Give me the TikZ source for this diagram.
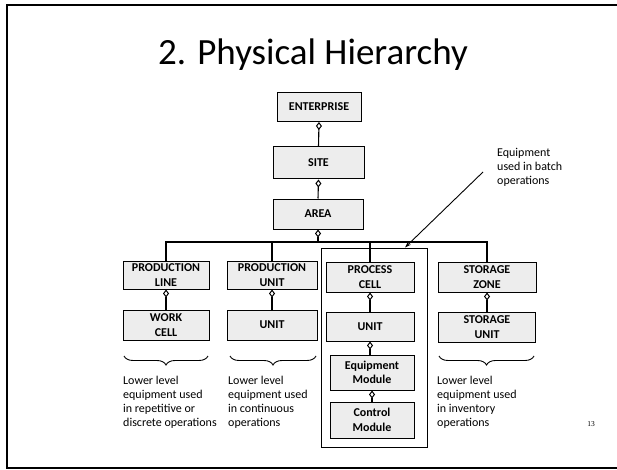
\documentclass[tikz,border=0pt]{standalone}
\usepackage{fontspec}
\setmainfont{Carlito}
\newfontfamily\pagenumfont{Liberation Serif}
\usetikzlibrary{arrows.meta,decorations.pathreplacing}

\begin{document}
\begin{tikzpicture}[x=1pt,y=-1pt,
  unitbox/.style={draw, line width=1pt, fill=gray!14, align=center,
    font=\fontsize{12}{14.5}\selectfont\bfseries, inner sep=0pt},
  link/.style={line width=1.1pt,
    {Diamond[open,length=8pt,width=6pt,line width=1pt]}-},
  wire/.style={line width=1.1pt},
  note/.style={align=left, inner sep=0pt, anchor=north west,
    font=\fontsize{12}{14}\selectfont},
  curly/.style={decorate, line width=0.9pt,
    decoration={brace, mirror, amplitude=9pt}},
]
\useasboundingbox (0,0) rectangle (617,470);

% slide frame
\draw[line width=1.6pt] (617,5) -- (7,5) -- (7,468) -- (617,468);

% title
\node (title) at (313,55) {\fontsize{37}{44}\selectfont 2. Physical Hierarchy};

% hierarchy boxes
\node[unitbox, minimum width=84pt, minimum height=29pt] (ent)  at (319,107)   {ENTERPRISE};
\node[unitbox, minimum width=91pt, minimum height=32pt] (site) at (318.5,163) {SITE};
\node[unitbox, minimum width=90pt, minimum height=30pt] (area) at (318,214)   {AREA};

\node[unitbox, minimum width=86pt, minimum height=28pt] (pl) at (166,275) {PRODUCTION\\LINE};
\node[unitbox, minimum width=90pt, minimum height=28pt] (pu) at (272,275) {PRODUCTION\\UNIT};
\node[unitbox, minimum width=88pt, minimum height=30pt] (pc) at (370,277) {PROCESS\\CELL};
\node[unitbox, minimum width=98pt, minimum height=30pt] (sz) at (487,277) {STORAGE\\ZONE};

\node[unitbox, minimum width=86pt, minimum height=30pt] (wc) at (166,325)   {WORK\\CELL};
\node[unitbox, minimum width=90pt, minimum height=30pt] (u1) at (272,325)   {UNIT};
\node[unitbox, minimum width=88pt, minimum height=29pt] (u2) at (370,326.5) {UNIT};
\node[unitbox, minimum width=97pt, minimum height=30pt] (su) at (487,327)   {STORAGE\\UNIT};

\node[unitbox, minimum width=84pt, minimum height=35pt] (em) at (372,372.5) {Equipment\\Module};
\node[unitbox, minimum width=84pt, minimum height=36pt] (cm) at (372,420)   {Control\\Module};

% batch equipment enclosure
\node[draw, line width=1pt, minimum width=106pt, minimum height=199pt, inner sep=0pt]
  (batch) at (374,347.5) {};

% containment links
\draw[link] (ent.south) -- (site.north);
\draw[link] (site.south) -- (area.north);
\coordinate (bus) at (0,242);
\draw[link] (area.south) -- (area.south |- bus);
\draw[wire] (pl.north) -- (pl.north |- bus) -- (sz.north |- bus) -- (sz.north);
\draw[wire] (pu.north |- bus) -- (pu.north);
\draw[wire] (pc.north |- bus) -- (pc.north);
\draw[link] (pl.south) -- (wc.north);
\draw[link] (pu.south) -- (u1.north);
\draw[link] (pc.south) -- (u2.north);
\draw[link] (sz.south) -- (su.north);
\draw[link] (u2.south) -- (u2.south |- em.north);
\draw[link] (em.south) -- (em.south |- cm.north);

% batch annotation
\node[note] (batchnote) at (497,148) {Equipment\\used in batch\\operations};
\coordinate (callout) at (483,172);
\draw[line width=0.9pt, -{Stealth[length=6pt,width=4pt]}] (callout) -- (batch.north -| 405,0);

% braces and notes under the columns
\coordinate (b1l) at (124,356); \coordinate (b1r) at (208,356);
\coordinate (b2l) at (230,356); \coordinate (b2r) at (316,356);
\coordinate (b4l) at (439,356); \coordinate (b4r) at (534,356);
\draw[curly] (b1l) -- (b1r);
\draw[curly] (b2l) -- (b2r);
\draw[curly] (b4l) -- (b4r);

\node[note] (n1) at (123,376) {Lower level\\equipment used\\in repetitive or\\discrete operations};
\node[note] (n2) at (228,376) {Lower level\\equipment used\\in continuous\\operations};
\node[note] (n4) at (437,376) {Lower level\\equipment used\\in inventory\\operations};

% page number
\node[font=\pagenumfont\fontsize{7.5}{9}\selectfont] (pg) at (591,424) {13};
\end{tikzpicture}
\end{document}
